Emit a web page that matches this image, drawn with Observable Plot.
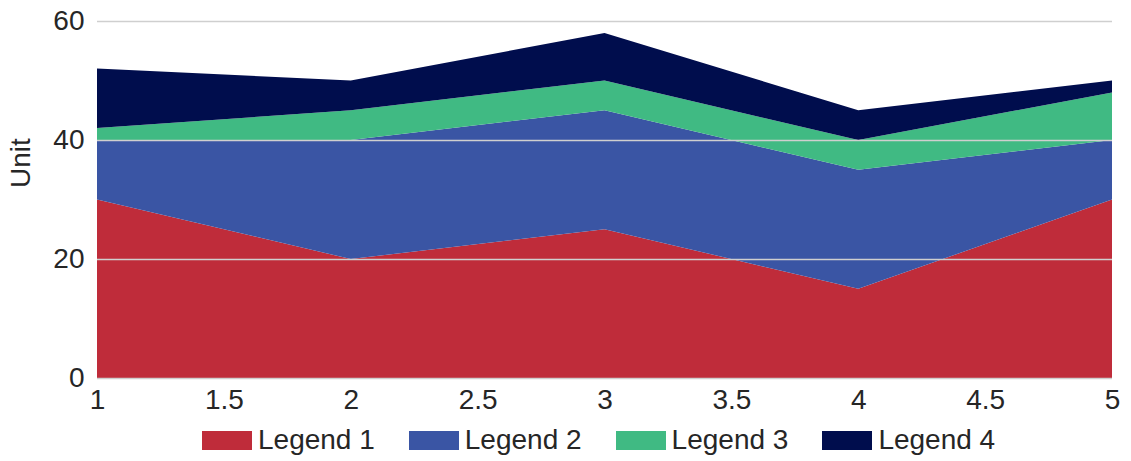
<!DOCTYPE html>
<html>
<head>
<meta charset="utf-8">
<script src="https://cdn.jsdelivr.net/npm/d3@7"></script>
<script src="https://cdn.jsdelivr.net/npm/@observablehq/plot@0.6"></script>
<style>
  html, body { margin: 0; padding: 0; background: #fff; }
  body { width: 1131px; height: 461px; overflow: hidden; font-family: Arial, "Liberation Sans", sans-serif; }
  #chart svg text { font-size: 28px !important; font-family: Arial, "Liberation Sans", sans-serif !important; }
  #legend { display: flex; align-items: center; margin-left: 202px; margin-top: 0px; height: 40px; font-size: 28px; color: #262626; }
  .item { display: flex; align-items: center; margin-right: 34px; }
  .sw { width: 50px; height: 19px; margin-right: 6px; }
</style>
</head>
<body>
<div id="chart"></div>
<div id="legend"></div>
<script>
const xs = [1, 2, 3, 4, 5];
const seriesNames = ["Legend 1", "Legend 2", "Legend 3", "Legend 4"];
const legend1 = [30, 20, 25, 15, 30];
const legend2 = [10, 20, 20, 20, 10];
const legend3 = [2, 5, 5, 5, 8];
const legend4 = [10, 5, 8, 5, 2];
const colors = ["#BF2C3A", "#3A55A4", "#40BA83", "#000D4D"];
const xTicks = [1, 1.5, 2, 2.5, 3, 3.5, 4, 4.5, 5];
const yTicks = [0, 20, 40, 60];
const yTitle = "Unit";

const allSeries = [legend1, legend2, legend3, legend4];
const data = [];
allSeries.forEach((vals, i) => vals.forEach((v, j) => data.push({x: xs[j], y: v, s: seriesNames[i]})));

const chart = Plot.plot({
  width: 1131,
  height: 420,
  marginLeft: 97,
  marginRight: 19,
  marginTop: 21,
  marginBottom: 42,
  style: {fontFamily: "Arial, 'Liberation Sans', sans-serif", fontSize: "28px", color: "#262626", background: "#fff"},
  x: {domain: [1, 5]},
  y: {domain: [0, 60]},
  color: {domain: seriesNames, range: colors},
  marks: [
    Plot.areaY(data, {x: "x", y: "y", z: "s", fill: "s", order: seriesNames, fillOpacity: 1}),
    Plot.ruleY(yTicks, {stroke: "#cfcfcf", strokeWidth: 1.5}),
    Plot.axisX({ticks: xTicks, tickFormat: d => String(d), tickSize: 0, tickPadding: 11, label: null, fontSize: 28}),
    Plot.axisY({ticks: yTicks, tickSize: 0, tickPadding: 13, label: null, fontSize: 28}),
    Plot.text([yTitle], {frameAnchor: "left", rotate: -90, dx: -76, dy: -12, fontSize: 28, fill: "#262626"})
  ]
});
document.getElementById("chart").appendChild(chart);

const lg = document.getElementById("legend");
seriesNames.forEach((n, i) => {
  const it = document.createElement("div");
  it.className = "item";
  const sw = document.createElement("div");
  sw.className = "sw";
  sw.style.background = colors[i];
  it.appendChild(sw);
  const t = document.createElement("span");
  t.textContent = n;
  it.appendChild(t);
  lg.appendChild(it);
});
</script>
</body>
</html>
